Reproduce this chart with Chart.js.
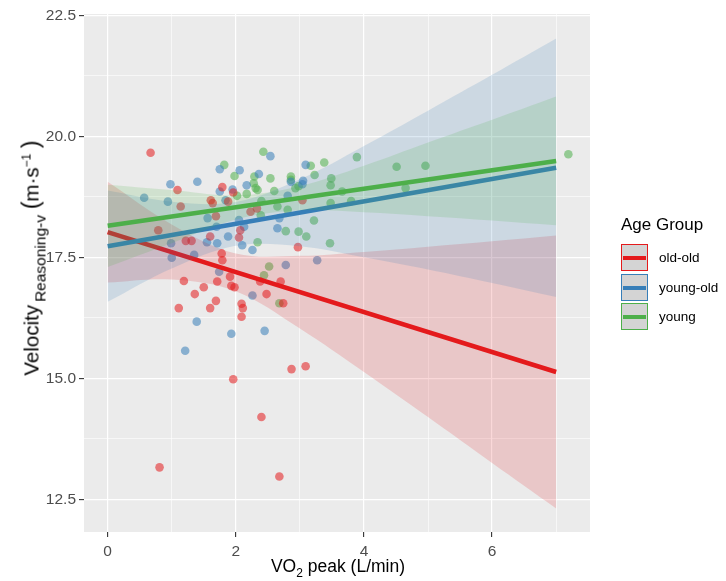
<!DOCTYPE html>
<html>
<head>
<meta charset="utf-8">
<script src="https://cdn.jsdelivr.net/npm/chart.js@4.4.1/dist/chart.umd.min.js"></script>
<style>
    body { margin: 0; background: #fff; font-family: "Liberation Sans", Arial, sans-serif; }
    #wrap { position: relative; width: 726px; height: 581px; }
    canvas { position: absolute; left: 0; top: 0; }
    .ytitle { position: absolute; left: 31px; top: 258px; transform: translate(-50%, -50%) rotate(-90deg);
              white-space: nowrap; font-size: 20.5px; color: #000; }
    .ytitle .sub { font-size: 15.5px; position: relative; top: 7px; margin-left: 3px; }
    .ytitle .big { font-size: 23px; }
    .ytitle sup { font-size: 12px; }
    .xtitle { position: absolute; left: 338px; top: 568px; transform: translate(-50%, -50%);
              white-space: nowrap; font-size: 17.5px; color: #000; }
    .xtitle sub { font-size: 12px; }
    .legend { position: absolute; left: 621px; top: 215px; color: #000; }
    .legend .title { font-size: 17px; margin-bottom: 8px; }
    .legend .item { display: flex; align-items: center; height: 29.5px; }
    .legend .key { position: relative; width: 27px; height: 27px; background: #d4d4d4; box-sizing: border-box; border: 1px solid; }
    .legend .key span { position: absolute; left: 1px; right: 1px; top: 11px; height: 4px; }
    .legend .lbl { font-size: 13.5px; margin-left: 11px; }
</style>
</head>
<body>
<div id="wrap">
    <canvas id="chart" width="726" height="581"></canvas>
    <div class="ytitle">Velocity<span class="sub">Reasoning-v</span> <span class="big">(</span>m·s<sup>−1</sup> <span class="big">)</span></div>
    <div class="xtitle">VO<sub>2</sub> peak (L/min)</div>
    <div class="legend" id="legend"><div class="title">Age Group</div></div>
</div>
<script>
// grupos e cores (ggplot Set1)
const groups = ['old-old', 'young-old', 'young'];
const colors = ['#E41A1C', '#377EB8', '#4DAF4A'];

// pontos
const oldOldX = [0.67, 1.09, 1.14, 0.79, 1.22, 1.31, 1.19, 1.50, 1.60, 1.61, 1.64, 1.79, 1.88, 1.96, 1.78, 1.79,
    2.05, 1.71, 1.91, 1.93, 2.23, 2.97, 3.04, 1.36, 1.11, 1.60, 1.69, 1.98, 2.09, 2.11, 2.09, 2.48, 2.74, 2.38,
    2.70, 2.87, 3.09, 1.96, 2.40, 0.81, 2.68, 1.69, 2.33, 2.07];
const oldOldY = [19.66, 18.89, 18.55, 18.06, 17.84, 17.84, 17.01, 16.88, 17.93, 18.68, 18.62, 18.95, 18.65, 18.84, 17.58, 17.44,
    17.91, 17.00, 17.10, 16.91, 18.44, 17.71, 18.68, 16.74, 16.45, 16.45, 16.60, 16.88, 16.54, 16.45, 16.27, 16.74, 16.55, 17.00,
    17.00, 15.19, 15.25, 14.98, 14.20, 13.16, 12.97, 18.35, 18.51, 18.06];

const youngOldX = [0.57, 0.98, 0.94, 1.40, 0.99, 1.00, 1.35, 1.55, 1.71, 1.56, 1.70, 1.75, 1.75, 1.84, 2.06, 1.95,
    1.88, 2.10, 2.13, 1.74, 2.54, 2.36, 2.26, 2.78, 2.68, 2.65, 3.27, 3.09, 3.05, 3.04, 1.39, 1.93, 2.45, 1.21,
    2.26, 2.17, 2.86, 2.81, 2.05];
const youngOldY = [18.73, 19.01, 18.65, 19.06, 17.79, 17.49, 17.55, 17.81, 17.79, 18.31, 18.13, 19.32, 18.86, 18.68, 19.30, 18.90,
    17.93, 17.75, 18.13, 17.20, 19.59, 19.22, 17.65, 17.34, 18.31, 18.10, 17.44, 19.41, 19.08, 19.01, 16.17, 15.92, 15.98, 15.57,
    16.71, 18.99, 19.06, 18.77, 18.27];

const youngX = [1.82, 1.98, 2.02, 2.17, 2.28, 2.31, 2.34, 2.43, 2.29, 2.39, 2.34, 2.44, 2.52, 2.60, 2.65, 2.78,
    2.86, 2.86, 2.98, 3.10, 3.17, 3.38, 2.93, 2.98, 3.23, 3.49, 3.48, 3.22, 3.47, 2.68, 2.54, 2.40, 2.81, 3.48,
    3.89, 4.51, 4.96, 4.65, 7.19, 3.66, 3.80];
const youngY = [19.41, 19.18, 18.77, 18.81, 19.03, 18.93, 18.89, 19.68, 19.17, 18.37, 17.81, 17.13, 17.31, 18.87, 18.55, 18.04,
    19.17, 19.10, 18.03, 17.93, 19.39, 19.46, 18.93, 18.97, 19.20, 19.13, 18.99, 18.26, 17.79, 16.55, 19.13, 18.66, 18.48, 18.62,
    19.57, 19.37, 19.39, 18.93, 19.63, 18.86, 18.66];

// retas de regressão (x = 0 e x = 7)
const lineX = [0, 7];
const oldOldLine = [18.02, 15.13];
const youngOldLine = [17.73, 19.35];
const youngLine = [18.15, 19.49];

// faixas de confiança
const bandX = [0, 1, 2, 3, 4, 5, 6, 7];
const oldOldUpper = [19.06, 18.18, 17.58, 17.53, 17.61, 17.72, 17.83, 17.95];
const oldOldLower = [16.98, 17.04, 16.80, 16.03, 15.13, 14.20, 13.25, 12.31];
const youngOldUpper = [18.88, 18.65, 18.64, 19.11, 19.80, 20.53, 21.27, 22.02];
const youngOldLower = [16.58, 17.27, 17.74, 17.73, 17.50, 17.25, 16.97, 16.68];
const youngUpper = [19.00, 18.89, 18.78, 18.97, 19.39, 19.87, 20.34, 20.82];
const youngLower = [17.30, 17.79, 18.28, 18.47, 18.43, 18.35, 18.26, 18.16];

const xTicks = [0, 1, 2, 3, 4, 5, 6, 7];
const xMajor = [0, 2, 4, 6];
const yTicks = [12.5, 13.75, 15, 16.25, 17.5, 18.75, 20, 21.25, 22.5];
const yMajor = [12.5, 15, 17.5, 20, 22.5];

const ptsX = [oldOldX, youngOldX, youngX];
const ptsY = [oldOldY, youngOldY, youngY];
const lines = [oldOldLine, youngOldLine, youngLine];
const uppers = [oldOldUpper, youngOldUpper, youngUpper];
const lowers = [oldOldLower, youngOldLower, youngLower];

function rgba(hex, a) {
    const n = parseInt(hex.slice(1), 16);
    return `rgba(${(n >> 16) & 255}, ${(n >> 8) & 255}, ${n & 255}, ${a})`;
}
const isMajor = (list, v) => list.some(m => Math.abs(m - v) < 1e-6);

const datasets = [];
groups.forEach((g, i) => {
    datasets.push({
        type: 'scatter', label: g,
        data: ptsX[i].map((x, j) => ({ x: x, y: ptsY[i][j] })),
        backgroundColor: rgba(colors[i], 0.55), borderWidth: 0, pointRadius: 4.3, order: 20
    });
});
groups.forEach((g, i) => {
    const lowIdx = datasets.length;
    const ord = 10 - i * 3;
    datasets.push({
        type: 'line', data: bandX.map((x, j) => ({ x: x, y: lowers[i][j] })),
        borderWidth: 0, pointRadius: 0, fill: false, tension: 0.35, order: ord
    });
    datasets.push({
        type: 'line', data: bandX.map((x, j) => ({ x: x, y: uppers[i][j] })),
        borderWidth: 0, pointRadius: 0, fill: lowIdx, backgroundColor: rgba(colors[i], 0.17), tension: 0.35, order: ord
    });
    datasets.push({
        type: 'line', data: lineX.map((x, j) => ({ x: x, y: lines[i][j] })),
        borderColor: colors[i], borderWidth: 4.5, borderCapStyle: 'butt', pointRadius: 0, fill: false, order: ord - 1
    });
});

// fundo cinza do painel
const panelBg = {
    id: 'panelBg',
    beforeDraw(chart) {
        const a = chart.chartArea, ctx = chart.ctx;
        ctx.save();
        ctx.fillStyle = '#EBEBEB';
        ctx.fillRect(a.left, a.top, a.right - a.left, a.bottom - a.top);
        ctx.restore();
    }
};

const font = { family: '"Liberation Sans", Arial, sans-serif', size: 15.5 };

new Chart(document.getElementById('chart'), {
    type: 'scatter',
    data: { datasets: datasets },
    options: {
        responsive: false,
        animation: false,
        layout: { padding: { top: 14, right: 136, left: 0, bottom: 0 } },
        plugins: { legend: { display: false }, tooltip: { enabled: false } },
        scales: {
            x: {
                type: 'linear', min: -0.369, max: 7.528,
                afterBuildTicks: s => { s.ticks = xTicks.map(v => ({ value: v })); },
                afterFit: s => { s.height = 49; },
                border: { display: false },
                grid: {
                    color: '#fff',
                    lineWidth: c => (c.tick && isMajor(xMajor, c.tick.value)) ? 1.2 : 0.6,
                    tickColor: c => (c.tick && isMajor(xMajor, c.tick.value)) ? '#333' : 'rgba(0,0,0,0)',
                    tickLength: 5, tickWidth: 1.1
                },
                ticks: {
                    color: '#4D4D4D', font: font, padding: 5, autoSkip: false, maxRotation: 0,
                    callback: v => isMajor(xMajor, v) ? String(v) : ''
                }
            },
            y: {
                type: 'linear', min: 11.824, max: 22.527,
                afterBuildTicks: s => { s.ticks = yTicks.map(v => ({ value: v })); },
                afterFit: s => { s.width = 84; },
                border: { display: false },
                grid: {
                    color: '#fff',
                    lineWidth: c => (c.tick && isMajor(yMajor, c.tick.value)) ? 1.2 : 0.6,
                    tickColor: c => (c.tick && isMajor(yMajor, c.tick.value)) ? '#333' : 'rgba(0,0,0,0)',
                    tickLength: 5, tickWidth: 1.1
                },
                ticks: {
                    color: '#4D4D4D', font: font, padding: 3, autoSkip: false,
                    callback: v => isMajor(yMajor, v) ? v.toFixed(1) : ''
                }
            }
        }
    },
    plugins: [panelBg]
});

// legenda
const legend = document.getElementById('legend');
groups.forEach((g, i) => {
    const item = document.createElement('div');
    item.className = 'item';
    item.innerHTML = `<div class="key" style="border-color:${colors[i]}"><span style="background:${colors[i]}"></span></div><div class="lbl">${g}</div>`;
    legend.appendChild(item);
});
</script>
</body>
</html>
